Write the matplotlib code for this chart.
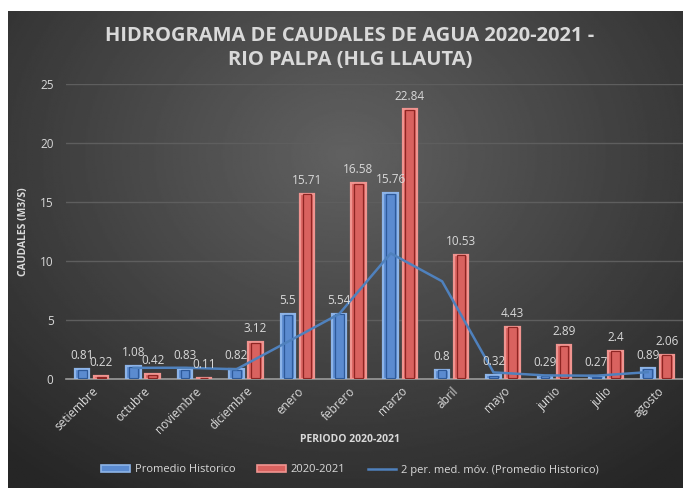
import numpy as np
import matplotlib
matplotlib.use("Agg")
import matplotlib.pyplot as plt
from matplotlib.lines import Line2D
from matplotlib.patches import Patch

# data
meses = ["setiembre", "octubre", "noviembre", "diciembre", "enero", "febrero",
         "marzo", "abril", "mayo", "junio", "julio", "agosto"]
promedio = [0.81, 1.08, 0.83, 0.82, 5.5, 5.54, 15.76, 0.8, 0.32, 0.29, 0.27, 0.89]
caudal_2020 = [0.22, 0.42, 0.11, 3.12, 15.71, 16.58, 22.84, 10.53, 4.43, 2.89, 2.4, 2.06]

plt.rcParams["font.family"] = ["Open Sans", "DejaVu Sans"]
txt = "#d9d9d9"

fig = plt.figure(figsize=(6.83, 4.88), dpi=100, facecolor="white")

# ---------------- BACKGROUND (radial gradient) ----------------
bg = fig.add_axes([8 / 683, 0, 675 / 683, 477 / 488])
yy, xx = np.mgrid[0:1:300j, 0:1:400j]
r = np.sqrt(((xx - 0.5) / 0.75) ** 2 + ((yy - 0.3) / 0.85) ** 2)
grad = np.clip(0.38 - 0.23 * r, 0.15, 0.38)
bg.imshow(grad, cmap="gray", vmin=0, vmax=1, aspect="auto", extent=[0, 1, 0, 1], origin="upper")
bg.axis("off")

# ---------------- MAIN PLOT ----------------
ax = fig.add_axes([66 / 683, 109 / 488, 617 / 683, 295 / 488])
ax.patch.set_alpha(0)

x = np.arange(len(meses))
w = 0.28
off = 0.185

blue_face, blue_edge, blue_in = "#5b8bd0", "#8db4e8", "#2e5a9a"
red_face, red_edge, red_in = "#d9625f", "#f09490", "#8e2523"

def draw_bars(xpos, vals, face, edge, inner):
    ax.bar(xpos, vals, width=w, color=face, edgecolor=edge, linewidth=1.6, zorder=3)
    ax.bar(xpos, np.array(vals) - 0.12, bottom=0.06, width=w * 0.6,
           color="none", edgecolor=inner, linewidth=0.9, zorder=4)

draw_bars(x - off, promedio, blue_face, blue_edge, blue_in)
draw_bars(x + off, caudal_2020, red_face, red_edge, red_in)

# data labels
for xi, v in zip(x - off, promedio):
    ax.annotate(f"{v:g}", (xi, v), xytext=(0, 5), textcoords="offset points",
                ha="center", va="bottom", fontsize=8.5, color=txt, zorder=6)
for xi, v in zip(x + off, caudal_2020):
    ax.annotate(f"{v:g}", (xi, v), xytext=(0, 5), textcoords="offset points",
                ha="center", va="bottom", fontsize=8.5, color=txt, zorder=6)

# 2 period moving average of the historic mean
mov = [(promedio[i - 1] + promedio[i]) / 2 for i in range(1, len(promedio))]
ax.plot(x[1:] - off, mov, color="#4f81bd", linewidth=1.8, zorder=5)

ax.set_xlim(-0.5, len(meses) - 0.5)
ax.set_ylim(0, 25)
ax.set_yticks([0, 5, 10, 15, 20, 25])
ax.set_xticks(x)
ax.set_xticklabels(meses, rotation=45, ha="right", rotation_mode="anchor")
ax.tick_params(axis="both", length=0, colors=txt, labelsize=8.5)
ax.tick_params(axis="y", pad=9)
ax.tick_params(axis="x", pad=4)
for s in ["top", "right", "left"]:
    ax.spines[s].set_visible(False)
ax.spines["bottom"].set_color("#9a9a9a")
ax.spines["bottom"].set_linewidth(1.2)
ax.grid(axis="y", color="#5e5e5e", linewidth=1.0, zorder=0)
ax.set_axisbelow(True)

ax.set_ylabel("CAUDALES (M3/S)", fontsize=7.5, fontweight="bold", color=txt, labelpad=8)
fig.text(350 / 683, 1 - 440 / 488, "PERIODO 2020-2021", fontsize=7.5, fontweight="bold",
         color=txt, ha="center", va="center")

fig.text(350 / 683, 1 - 48 / 488, "HIDROGRAMA DE CAUDALES DE AGUA 2020-2021 -\nRIO PALPA (HLG LLAUTA)",
         fontsize=14.5, fontweight="bold", color=txt, ha="center", va="center", linespacing=1.3)

handles = [Patch(facecolor=blue_face, edgecolor=blue_edge, linewidth=1.2),
           Patch(facecolor=red_face, edgecolor=red_edge, linewidth=1.2),
           Line2D([0], [0], color="#4f81bd", linewidth=1.8)]
leg = fig.legend(handles, ["Promedio Historico", "2020-2021", "2 per. med. móv. (Promedio Historico)"],
                 loc="center", bbox_to_anchor=(350 / 683, 1 - 470 / 488), ncol=3, frameon=False,
                 fontsize=8, labelcolor=txt, handlelength=2.6, handleheight=0.5,
                 columnspacing=2.0, handletextpad=0.4)

fig.savefig("out.png", dpi=100, facecolor="white")
